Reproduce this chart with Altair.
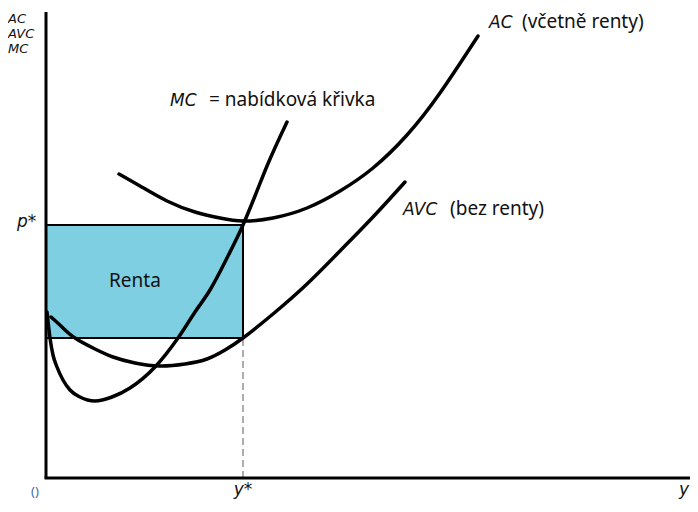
import altair as alt
import pandas as pd

# Coordinates measured from the axes' origin (x to the right, y upward)
mc_x = [1, 4, 7, 11, 17, 24, 34, 49, 66, 84, 109, 132, 149, 164, 182, 197, 209, 221, 241]
mc_y = [166, 140, 123, 111, 98, 88, 81, 77, 81, 90, 111, 140, 166, 188, 222, 253, 282, 312, 356]

avc_x = [5, 16, 29, 49, 67, 89, 114, 139, 161, 179, 197, 227, 261, 294, 327, 359]
avc_y = [161, 151, 140, 129, 121, 115, 112, 114, 119, 128, 140, 164, 194, 227, 261, 296]

ac_x = [73, 94, 121, 149, 174, 197, 227, 261, 294, 327, 361, 394, 432]
ac_y = [304, 292, 277, 266, 260, 257, 260, 270, 287, 310, 343, 385, 442]

p_star = 253      # price level
avc_at_ystar = 140
y_star = 197      # output
x_max = 644
y_max = 466

italic_text = ["MC", "AC", "AVC", "p*", "y*", "y"]
italic_x = [124, 443, 357, -29, 197, 638]
italic_y = [372, 450, 263, 251, -17, -17]
italic_align = ["left", "left", "left", "left", "center", "center"]

regular_text = ["= nabídková křivka", "(včetně renty)", "(bez renty)", "Renta"]
regular_x = [163, 476, 404, 63]
regular_y = [372, 450, 263, 191]

axis_title = ["AC", "AVC", "MC"]
axis_title_x = [-38, -38, -38]
axis_title_y = [455, 440, 425]

XS = alt.Scale(domain=[-38, 644], nice=False, zero=False)
YS = alt.Scale(domain=[-22, 470], nice=False, zero=False)
FONT = "Noto Sans"
IFONT = "DejaVu Sans"

def X(f="x"):
    return alt.X(f"{f}:Q", scale=XS, axis=None)

def Y(f="y"):
    return alt.Y(f"{f}:Q", scale=YS, axis=None)

rect_df = pd.DataFrame({"x": [0], "x2": [y_star], "y": [avc_at_ystar], "y2": [p_star]})
rect = alt.Chart(rect_df).mark_rect(fill="#7ecfe1", stroke="black", strokeWidth=2).encode(
    x=X(), x2="x2:Q", y=Y(), y2="y2:Q")

dash_df = pd.DataFrame({"x": [y_star], "y": [0], "y2": [avc_at_ystar]})
dash = alt.Chart(dash_df).mark_rule(color="#777777", strokeWidth=1.2, strokeDash=[7, 4]).encode(
    x=X(), y=Y(), y2="y2:Q")

def curve(xs, ys, interp="monotone"):
    df = pd.DataFrame({"x": xs, "y": ys, "o": range(len(xs))})
    return alt.Chart(df).mark_line(color="black", strokeWidth=3.5, interpolate=interp,
                                   strokeCap="round").encode(x=X(), y=Y(), order="o:Q")

yaxis_df = pd.DataFrame({"x": [0], "y": [0], "y2": [y_max]})
yaxis = alt.Chart(yaxis_df).mark_rule(color="black", strokeWidth=3).encode(x=X(), y=Y(), y2="y2:Q")
xaxis_df = pd.DataFrame({"x": [-1.5], "x2": [x_max], "y": [0]})
xaxis = alt.Chart(xaxis_df).mark_rule(color="black", strokeWidth=3).encode(x=X(), x2="x2:Q", y=Y())

it_df = pd.DataFrame({"x": italic_x, "y": italic_y, "t": italic_text, "a": italic_align})
it_left = alt.Chart(it_df[it_df.a == "left"]).mark_text(
    font=IFONT, fontSize=17, fontStyle="italic", align="left", baseline="alphabetic", color="#111111"
).encode(x=X(), y=Y(), text="t:N")
it_center = alt.Chart(it_df[it_df.a == "center"]).mark_text(
    font=IFONT, fontSize=17, fontStyle="italic", align="center", baseline="alphabetic", color="#111111"
).encode(x=X(), y=Y(), text="t:N")

rg_df = pd.DataFrame({"x": regular_x, "y": regular_y, "t": regular_text})
rg = alt.Chart(rg_df).mark_text(
    font=FONT, fontSize=19, align="left", baseline="alphabetic", color="#111111"
).encode(x=X(), y=Y(), text="t:N")

at_df = pd.DataFrame({"x": axis_title_x, "y": axis_title_y, "t": axis_title})
at = alt.Chart(at_df).mark_text(
    font=IFONT, fontSize=13, fontStyle="italic", align="left", baseline="alphabetic", color="#111111"
).encode(x=X(), y=Y(), text="t:N")

paren_df = pd.DataFrame({"x": [-11], "y": [-18], "t": ["()"]})
paren = alt.Chart(paren_df).mark_text(
    font=FONT, fontSize=13, align="center", baseline="alphabetic", color="#3b6ea5"
).encode(x=X(), y=Y(), text="t:N")

chart = alt.layer(
    rect, dash, curve(avc_x, avc_y, "natural"), curve(ac_x, ac_y, "natural"), curve(mc_x, mc_y),
    yaxis, xaxis, at, it_left, it_center, rg, paren
).properties(
    width=682, height=492, padding=0, autosize=alt.AutoSizeParams(type="none")
).configure_view(stroke=None)

chart.save("out.html", embed_options={"renderer": "svg", "actions": False})
